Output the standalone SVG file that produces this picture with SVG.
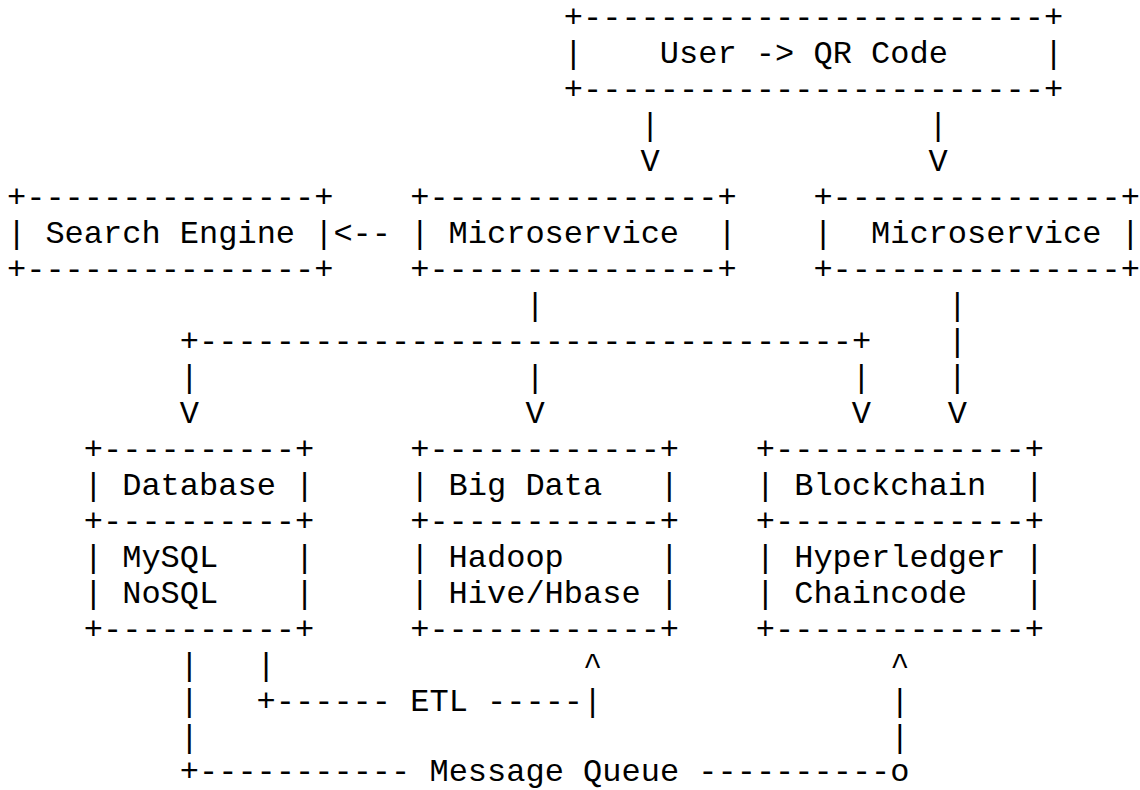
<svg xmlns="http://www.w3.org/2000/svg" width="1140" height="790" viewBox="0 0 1140 790" xml:space="preserve">
<style>
text { font-family: "Liberation Mono", "Courier New", monospace; font-size: 32px; fill: #000; white-space: pre; }
</style>
<rect x="0" y="0" width="1140" height="790" fill="#fff"/>
<g transform="translate(0,-1)">
<g id="node-user-qr">
<text x="563.8" y="28">+------------------------+</text>
<text x="563.8" y="64">|    User -&gt; QR Code     |</text>
<text x="563.8" y="100">+------------------------+</text>
</g>
<g id="node-search-engine">
<text x="7" y="208">+---------------+</text>
<text x="7" y="244">| Search Engine |</text>
<text x="7" y="280">+---------------+</text>
</g>
<g id="node-microservice-1">
<text x="410.2" y="208">+---------------+</text>
<text x="410.2" y="244">| Microservice  |</text>
<text x="410.2" y="280">+---------------+</text>
</g>
<g id="node-microservice-2">
<text x="813.4" y="208">+---------------+</text>
<text x="813.4" y="244">|  Microservice |</text>
<text x="813.4" y="280">+---------------+</text>
</g>
<g id="node-database">
<text x="83.8" y="460">+----------+</text>
<text x="83.8" y="496">| Database |</text>
<text x="83.8" y="532">+----------+</text>
<text x="83.8" y="568">| MySQL    |</text>
<text x="83.8" y="604">| NoSQL    |</text>
<text x="83.8" y="640">+----------+</text>
</g>
<g id="node-bigdata">
<text x="410.2" y="460">+------------+</text>
<text x="410.2" y="496">| Big Data   |</text>
<text x="410.2" y="532">+------------+</text>
<text x="410.2" y="568">| Hadoop     |</text>
<text x="410.2" y="604">| Hive/Hbase |</text>
<text x="410.2" y="640">+------------+</text>
</g>
<g id="node-blockchain">
<text x="755.8" y="460">+-------------+</text>
<text x="755.8" y="496">| Blockchain  |</text>
<text x="755.8" y="532">+-------------+</text>
<text x="755.8" y="568">| Hyperledger |</text>
<text x="755.8" y="604">| Chaincode   |</text>
<text x="755.8" y="640">+-------------+</text>
</g>
<g id="connectors">
<text x="640.6" y="136">|</text>
<text x="928.6" y="136">|</text>
<text x="640.6" y="172">V</text>
<text x="928.6" y="172">V</text>
<text x="333.4" y="244">&lt;--</text>
<text x="525.4" y="316">|</text>
<text x="947.8" y="316">|</text>
<text x="179.8" y="352">+----------------------------------+</text>
<text x="947.8" y="352">|</text>
<text x="179.8" y="388">|</text>
<text x="525.4" y="388">|</text>
<text x="851.8" y="388">|</text>
<text x="947.8" y="388">|</text>
<text x="179.8" y="424">V</text>
<text x="525.4" y="424">V</text>
<text x="851.8" y="424">V</text>
<text x="947.8" y="424">V</text>
<text x="179.8" y="676">|</text>
<text x="256.6" y="676">|</text>
<text x="583" y="676">^</text>
<text x="890.2" y="676">^</text>
<text x="179.8" y="712">|</text>
<text x="256.6" y="712">+------ ETL -----|</text>
<text x="890.2" y="712">|</text>
<text x="179.8" y="748">|</text>
<text x="890.2" y="748">|</text>
<text x="179.8" y="782">+----------- Message Queue ----------o</text>
</g>
</g>
</svg>
